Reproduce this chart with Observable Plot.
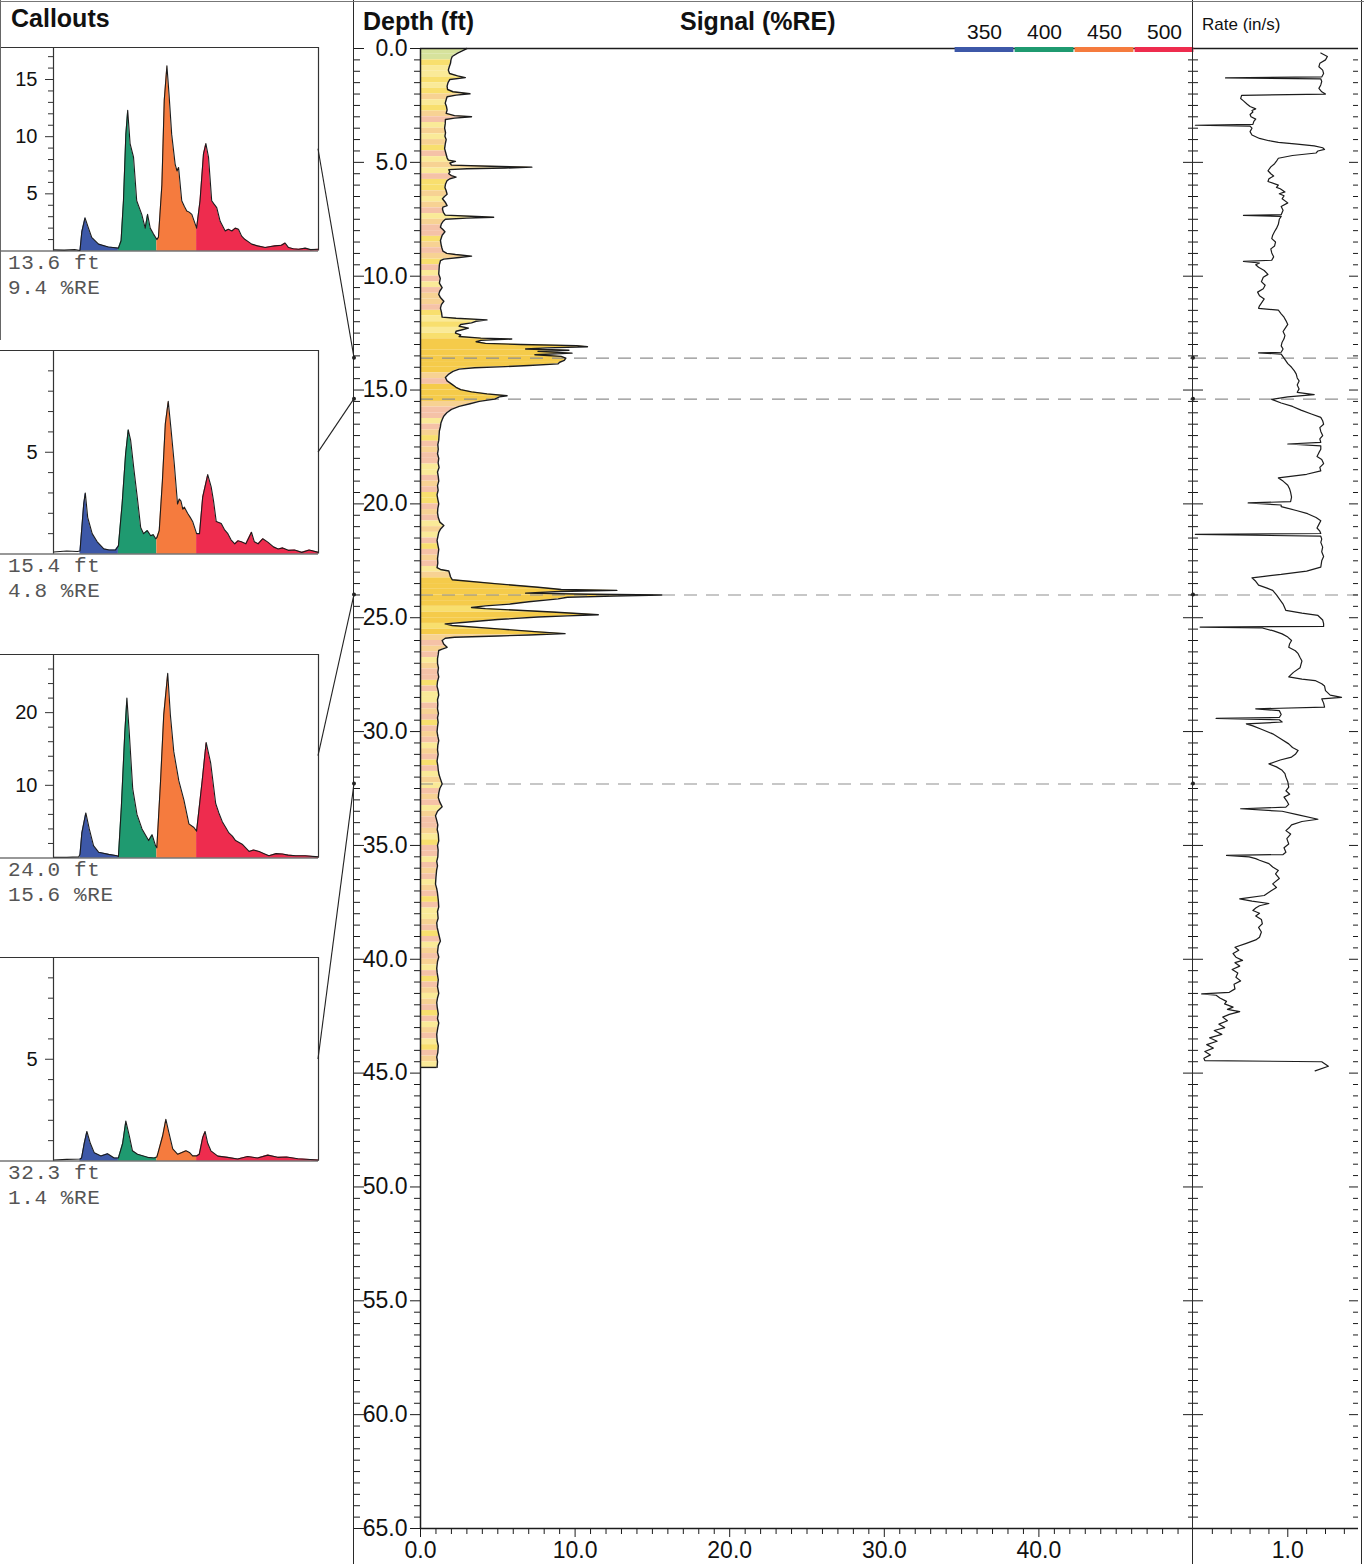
<!DOCTYPE html>
<html>
<head>
<meta charset="utf-8">
<script src="https://cdn.jsdelivr.net/npm/d3@7"></script>
<script src="https://cdn.jsdelivr.net/npm/@observablehq/plot@0.6"></script>
<style>
  body { margin: 0; background: #fff; }
  #page { position: relative; width: 1364px; height: 1564px; overflow: hidden; background: #fff;
          font-family: "Liberation Sans", Arial, sans-serif; color: #111; }
  .hdr { position: absolute; font-weight: bold; line-height: 1; white-space: nowrap; }
  .vline { position: absolute; top: 0; width: 0; border-left: 1.5px solid #2a2a2a; }
  .hline { position: absolute; height: 0; border-top: 1.2px solid #777; }
  .clabel { position: absolute; left: 8px; font-family: "Liberation Mono", "DejaVu Sans Mono", monospace;
            font-size: 21px; line-height: 1; color: #555; white-space: pre; letter-spacing: 0.6px; }
  svg { overflow: visible; }
</style>
</head>
<body>
<div id="page"></div>
<script>
// ---------------- data ----------------
// wavelength channels (nm) and where each channel sits along a callout waveform
const wavelengths = ["350", "400", "450", "500"];
const wlColors = ["#3d58a8", "#1f9a70", "#f57b3e", "#ee2c4e"];
const chanFrom = [10, 24.5, 39, 54];
const chanTo = [24.5, 39, 54, 100];

// callout depths (ft)
const calloutDepth = [13.6, 15.4, 24.0, 32.3];
const calloutYMax = [17.8, 10, 28, 10];
const calloutLabelTicks = [[5, 10, 15], [5], [10, 20], [5]];
const calloutMinorStep = [1, 1, 2, 1];

// waveform samples [position, amplitude]
const callout1 = [[0,0.1],[4,0.08],[8,0.12],[10,0.05],[10.7,1.7],[11.9,2.9],[13.2,2.0],[14.4,1.2],[17,0.6],[20.7,0.35],[22.5,0.3],[24.5,0.25],
  [25.5,0.9],[26.4,4.4],[27.3,10.2],[28,12.3],[28.9,9.4],[30.2,8.2],[31.4,4.4],[33.3,3.2],[34.6,2.0],[35.5,3.2],[36.5,2.0],[37.7,1.5],[39,1.0],
  [39.6,1.2],[40.9,5.8],[41.8,13.2],[42.8,16.2],[43.6,13.7],[44.6,10.2],[45.9,7.6],[46.6,7.0],[47.2,7.3],[48.4,4.4],[49.4,3.9],[50.3,3.5],[51.2,3.4],[52.2,3.2],[54,2.0],
  [55.3,4.4],[56.6,8.5],[57.5,9.4],[58.5,8.2],[59.7,4.4],[60.6,4.1],[61.6,3.8],[62.9,2.6],[64.8,1.75],[66,1.9],[67.3,1.75],[68.6,2.0],[69.8,1.9],[71,1.3],[72.3,1.0],[73.6,0.8],[74.8,0.6],[77,0.45],[79.9,0.3],[82,0.4],[83.6,0.45],[86,0.5],[87.4,0.7],[88.7,0.3],[90.5,0.2],[92.5,0.15],[95,0.25],[97,0.12],[100,0.15]];
const callout2 = [[0,0.1],[5,0.15],[9,0.12],[10,0.15],[11.4,2.46],[12,3.0],[12.9,1.8],[14.6,1.0],[16.5,0.6],[19,0.25],[21,0.2],[23.4,0.2],[24.5,0.4],
  [25.9,2.46],[27.2,4.9],[28.2,6.1],[29.1,5.6],[30.4,4.1],[31.6,2.8],[32.9,1.3],[34,1.0],[35.4,1.15],[36.7,0.9],[37.6,0.95],[38.6,0.75],[39,0.8],
  [39.9,1.15],[41.1,3.6],[42.2,6.4],[43.3,7.5],[44.3,6.2],[45.6,4.4],[46.8,2.46],[47.5,2.7],[48.1,2.6],[48.8,2.2],[49.4,2.3],[50.6,2.0],[51.6,1.8],[52.5,1.6],[54,1.0],
  [55.1,1.0],[56.3,2.8],[58.2,3.9],[59.5,3.3],[60.4,2.6],[61.4,1.6],[63.3,1.5],[64.5,1.2],[65.8,1.0],[67,0.7],[68.4,0.5],[69.6,0.65],[70.9,0.6],[72.6,0.5],[74.7,1.07],[75.8,0.6],[77.2,0.5],[79,0.75],[81,0.57],[83,0.35],[84.8,0.25],[86.5,0.3],[88.6,0.18],[91,0.2],[93.7,0.08],[96.5,0.2],[100,0.08]];
const callout3 = [[0,0.1],[5,0.1],[9.5,0.15],[10,0.5],[10.7,3.45],[12.2,6.2],[13.5,4.0],[15.1,1.7],[17,0.8],[20.8,0.5],[24,0.3],[24.5,0.2],
  [25.6,7.0],[26.9,17.2],[27.7,22.0],[28.6,17.2],[29.9,9.5],[31.5,6.0],[33.4,4.0],[35.9,2.4],[37.2,3.2],[38.5,1.7],[39,1.4],
  [40.4,10.6],[41.6,19.7],[43.1,25.4],[44.1,19.7],[45.4,14.6],[47.3,10.6],[49.2,8.0],[51.1,4.7],[53,4.2],[54,3.7],
  [56.1,10.6],[57.6,15.9],[59.3,13.1],[61.2,7.5],[62.4,6.2],[63.7,5.0],[65,4.2],[66.2,3.45],[67.5,3.0],[68.7,2.4],[71.2,1.9],[73.8,0.9],[75.5,1.1],[77.6,0.9],[79.5,0.6],[81.3,0.3],[84,0.6],[86.4,0.55],[88.5,0.4],[91.4,0.3],[95,0.3],[100,0.15]];
const callout4 = [[0,0.05],[5,0.08],[10,0.1],[10.6,0.15],[11.6,0.87],[12.6,1.45],[13.9,0.87],[15.4,0.4],[17.9,0.25],[20.4,0.36],[22.9,0.15],[24.5,0.15],
  [26.1,0.87],[27.3,1.96],[28.6,1.24],[29.8,0.5],[31.7,0.33],[35.5,0.18],[38,0.15],[39,0.2],
  [39.5,0.42],[41.2,1.24],[42.4,2.05],[43.5,1.42],[45,0.6],[46.9,0.33],[50,0.5],[51.3,0.42],[52.5,0.25],[54,0.25],
  [55,0.33],[56.3,1.15],[57.2,1.45],[58.2,0.87],[59.4,0.5],[62,0.24],[65.7,0.18],[69.5,0.1],[73.3,0.22],[77,0.15],[80.9,0.29],[84.6,0.18],[88,0.2],[92.2,0.11],[100,0.05]];
const callouts = [callout1, callout2, callout3, callout4];

// signal log [depth ft, %RE]
const signalPts = [[0,3.0],[0.1,2.7],[0.2,2.4],[0.35,2.05],[0.5,1.97],[0.65,1.94],[0.8,1.86],[0.95,1.8],[1.1,1.88],[1.2,2.4],[1.28,2.9],[1.36,1.9],[1.5,1.78],[1.65,1.72],[1.8,1.75],[1.9,2.1],[1.99,3.2],[2.05,2.3],[2.12,1.72],[2.25,1.66],[2.4,1.6],[2.55,1.68],[2.7,1.72],[2.85,1.66],[2.95,2.2],[3.0,3.3],[3.06,2.2],[3.12,1.61],[3.3,1.6],[3.5,1.56],[3.7,1.62],[3.85,1.58],[4.0,1.66],[4.2,1.6],[4.4,1.56],[4.6,1.64],[4.8,1.72],[4.9,1.8],[4.96,2.26],[5.03,1.9],[5.12,2.0],[5.17,4.5],[5.21,7.2],[5.25,5.5],[5.28,3.0],[5.32,1.83],[5.42,1.9],[5.5,1.83],[5.58,2.0],[5.65,2.3],[5.72,1.9],[5.8,1.72],[5.95,1.62],[6.1,1.58],[6.25,1.66],[6.4,1.72],[6.5,1.55],[6.6,1.42],[6.75,1.6],[6.9,1.72],[6.97,1.45],[7.05,1.42],[7.2,1.48],[7.32,1.6],[7.38,3.6],[7.41,4.73],[7.45,3.0],[7.5,1.61],[7.6,1.45],[7.7,1.35],[7.85,1.29],[7.95,1.45],[8.05,1.58],[8.2,1.4],[8.43,1.29],[8.6,1.33],[8.75,1.38],[8.9,1.45],[9.0,1.7],[9.05,2.26],[9.12,3.3],[9.18,2.5],[9.25,1.5],[9.32,1.29],[9.5,1.22],[9.7,1.2],[9.9,1.18],[10.1,1.28],[10.3,1.22],[10.5,1.4],[10.65,1.25],[10.8,1.18],[10.95,1.3],[11.1,1.51],[11.25,1.35],[11.4,1.29],[11.6,1.36],[11.8,1.4],[11.85,2.3],[11.92,4.3],[11.98,3.6],[12.05,3.3],[12.12,2.6],[12.2,2.5],[12.28,3.1],[12.35,2.7],[12.42,2.3],[12.5,2.26],[12.58,2.6],[12.65,2.5],[12.72,3.9],[12.76,5.9],[12.82,3.9],[12.88,3.6],[12.95,4.2],[13.0,6.5],[13.05,10.1],[13.1,10.8],[13.15,8.2],[13.2,6.8],[13.25,9.6],[13.3,7.6],[13.38,9.8],[13.45,7.4],[13.52,9.1],[13.6,9.4],[13.7,9.3],[13.78,9.0],[13.85,8.9],[13.92,7.0],[13.97,5.5],[14.02,3.5],[14.08,2.5],[14.18,2.1],[14.3,1.83],[14.45,1.61],[14.6,1.72],[14.75,2.04],[14.88,2.3],[14.98,2.6],[15.08,3.3],[15.17,4.3],[15.25,5.6],[15.3,5.1],[15.4,4.8],[15.5,3.8],[15.6,3.2],[15.72,2.5],[15.85,2.0],[16.0,1.7],[16.15,1.5],[16.3,1.4],[16.45,1.32],[16.6,1.29],[16.8,1.22],[17.0,1.2],[17.2,1.18],[17.4,1.12],[17.6,1.15],[17.8,1.1],[18.0,1.18],[18.2,1.14],[18.4,1.2],[18.6,1.1],[18.8,1.15],[19.0,1.18],[19.2,1.1],[19.4,1.14],[19.6,1.07],[19.8,1.12],[20.0,1.18],[20.2,1.12],[20.4,1.1],[20.6,1.15],[20.8,1.25],[20.95,1.51],[21.1,1.3],[21.25,1.18],[21.45,1.12],[21.6,1.07],[21.8,1.12],[22.0,1.18],[22.2,1.14],[22.4,1.1],[22.6,1.12],[22.8,1.07],[22.88,1.29],[22.95,1.83],[23.1,1.9],[23.2,1.94],[23.33,2.05],[23.5,4.8],[23.66,7.6],[23.76,9.1],[23.8,12.7],[23.85,9.0],[23.92,6.8],[23.97,11.0],[24.0,15.6],[24.05,12.5],[24.1,9.5],[24.17,8.9],[24.3,7.0],[24.4,5.8],[24.48,4.2],[24.55,3.3],[24.6,4.2],[24.75,8.5],[24.87,11.5],[24.92,9.5],[24.97,7.6],[25.08,5.0],[25.2,2.9],[25.27,1.6],[25.34,2.05],[25.5,5.2],[25.62,7.6],[25.7,9.35],[25.76,7.0],[25.8,5.0],[25.86,2.2],[25.9,1.6],[26.0,1.4],[26.15,1.5],[26.3,1.72],[26.38,1.4],[26.44,1.18],[26.6,1.15],[26.8,1.1],[27.0,1.1],[27.2,1.16],[27.4,1.12],[27.6,1.18],[27.8,1.1],[28.0,1.07],[28.2,1.14],[28.4,1.18],[28.6,1.1],[28.8,1.12],[29.0,1.1],[29.2,1.16],[29.4,1.1],[29.6,1.14],[29.8,1.1],[30.0,1.07],[30.2,1.12],[30.4,1.18],[30.6,1.12],[30.8,1.1],[31.0,1.14],[31.3,1.07],[31.5,1.12],[31.7,1.15],[31.9,1.2],[32.1,1.3],[32.3,1.4],[32.5,1.25],[32.7,1.18],[32.9,1.15],[33.1,1.25],[33.3,1.4],[33.5,1.1],[33.7,0.97],[33.9,1.05],[34.1,1.12],[34.3,1.08],[34.5,1.15],[34.8,1.18],[35.0,1.1],[35.2,1.14],[35.5,1.12],[35.7,1.05],[35.9,1.1],[36.1,1.04],[36.4,1.0],[36.7,0.97],[36.9,1.05],[37.1,1.1],[37.4,1.15],[37.7,1.18],[37.9,1.1],[38.2,1.14],[38.4,1.05],[38.6,1.08],[38.9,1.18],[39.2,1.29],[39.4,1.15],[39.7,1.1],[39.9,1.18],[40.1,1.1],[40.4,1.05],[40.6,1.08],[40.9,1.15],[41.2,1.1],[41.5,1.18],[41.7,1.1],[41.9,1.05],[42.1,1.08],[42.4,1.15],[42.6,1.1],[42.8,1.18],[43.0,1.12],[43.3,1.05],[43.6,1.08],[43.8,1.15],[44.1,1.12],[44.3,1.05],[44.5,1.1],[44.75,1.07]];

// spectral tint of the signal fill, one code per 0.25 ft band from the surface down
const toneStep = 0.25;
const toneCode = [
  5,5,1,0, 0,1,0,1, 2,0,1,2, 3,0,2,0, 2,1,3,0,
  2,0,3,1, 1,2,0,2, 3,0,2,3, 3,1,2,3, 2,1,3,0,
  3,0,3,2, 2,3,1,0, 1,0,1,4, 4,4,4,4, 4,2,3,4,
  4,4,2,3, 3,0,3,2, 1,3,2,3, 3,0,0,3, 2,3,1,1,
  3,2,3,0, 2,0,3,1, 3,2,3,0, 2,4,4,4, 4,4,1,4,
  4,1,4,2, 3,2,3,0, 2,3,3,1, 3,0,0,3, 2,3,1,3,
  2,3,0,2, 3,1,3,0, 2,0,3,2, 3,0,2,3, 3,2,0,1,
  3,3,0,3, 2,3,0,2, 3,1,3,0, 0,2,3,1, 3,0,2,3,
  2,0,3,1, 3,2,0,2, 3,1,3,0, 2,3,0,1, 3,2,0];
const toneColors = ["#faea98", "#f8df6e", "#f7d293", "#f5c2a7", "#f5cb4a", "#d6e29c"];

// push rate [depth ft, in/s]
const ratePts = [[0.2,1.35],[0.35,1.42],[0.5,1.40],[0.65,1.34],[0.8,1.33],[0.95,1.37],[1.1,1.38],[1.25,1.36],[1.29,0.34],[1.33,1.35],[1.45,1.36],[1.6,1.35],[1.75,1.33],[1.9,1.36],[2.0,1.40],[2.06,0.51],[2.2,0.50],[2.3,0.53],[2.45,0.57],[2.55,0.60],[2.65,0.66],[2.72,0.62],[2.79,0.63],[2.9,0.60],[3.0,0.61],[3.1,0.66],[3.2,0.64],[3.33,0.63],[3.37,0.02],[3.41,0.60],[3.5,0.62],[3.65,0.60],[3.8,0.62],[3.95,0.70],[4.05,0.80],[4.12,0.90],[4.2,1.10],[4.28,1.28],[4.36,1.37],[4.43,1.39],[4.5,1.32],[4.59,1.30],[4.7,1.05],[4.82,0.90],[4.95,0.88],[5.06,0.86],[5.2,0.82],[5.37,0.79],[5.5,0.82],[5.6,0.85],[5.72,0.80],[5.84,0.79],[6.0,0.90],[6.1,0.88],[6.16,0.92],[6.3,0.97],[6.38,0.91],[6.47,0.96],[6.6,0.94],[6.78,1.0],[6.94,0.93],[7.1,0.95],[7.3,0.93],[7.33,0.53],[7.37,0.93],[7.5,0.91],[7.72,0.90],[7.9,0.88],[8.04,0.86],[8.2,0.84],[8.35,0.83],[8.5,0.87],[8.67,0.86],[8.8,0.82],[8.98,0.83],[9.15,0.85],[9.3,0.83],[9.35,0.53],[9.42,0.70],[9.5,0.66],[9.61,0.69],[9.75,0.75],[9.92,0.79],[10.05,0.74],[10.24,0.72],[10.4,0.76],[10.55,0.74],[10.7,0.68],[10.86,0.70],[11.0,0.75],[11.18,0.72],[11.3,0.70],[11.41,0.69],[11.49,0.90],[11.65,0.93],[11.8,0.96],[11.95,0.98],[12.12,1.0],[12.3,0.97],[12.43,0.95],[12.6,0.97],[12.75,0.96],[12.9,0.94],[13.06,0.93],[13.2,0.95],[13.34,0.93],[13.37,0.69],[13.42,0.93],[13.6,0.96],[13.84,1.0],[14.0,1.04],[14.16,1.07],[14.3,1.09],[14.47,1.10],[14.6,1.12],[14.78,1.10],[14.95,1.12],[15.1,1.10],[15.2,1.28],[15.3,1.0],[15.41,0.83],[15.57,0.93],[15.72,1.05],[15.88,1.14],[16.05,1.25],[16.2,1.35],[16.35,1.37],[16.5,1.38],[16.65,1.34],[16.82,1.35],[17.0,1.37],[17.15,1.34],[17.3,1.35],[17.37,1.0],[17.45,1.35],[17.6,1.35],[17.75,1.33],[17.92,1.31],[18.05,1.36],[18.23,1.38],[18.4,1.34],[18.55,1.35],[18.7,1.20],[18.86,0.90],[19.0,0.95],[19.18,1.0],[19.35,1.02],[19.49,1.03],[19.7,1.04],[19.9,1.03],[19.96,0.58],[20.05,0.93],[20.12,0.93],[20.3,1.10],[20.43,1.21],[20.6,1.30],[20.74,1.35],[20.9,1.33],[21.06,1.31],[21.2,1.34],[21.3,1.35],[21.34,0.02],[21.42,1.35],[21.55,1.36],[21.69,1.35],[21.9,1.37],[22.1,1.36],[22.31,1.38],[22.5,1.36],[22.78,1.35],[22.95,1.20],[23.1,0.93],[23.18,0.75],[23.25,0.62],[23.4,0.66],[23.57,0.69],[23.7,0.78],[23.8,0.84],
  [24.0,0.88],[24.17,0.91],[24.4,0.95],[24.68,0.98],[24.8,1.15],[24.9,1.32],[25.1,1.37],[25.26,1.38],[25.38,1.38],[25.41,0.07],[25.45,0.73],[25.58,0.85],[25.71,0.94],[25.85,1.0],[26.0,1.04],[26.14,1.02],[26.3,1.01],[26.45,1.08],[26.58,1.11],[26.75,1.13],[26.9,1.15],[27.05,1.14],[27.2,1.13],[27.4,1.06],[27.6,1.01],[27.7,1.15],[27.76,1.29],[27.9,1.36],[28.0,1.39],[28.2,1.40],[28.4,1.45],[28.5,1.57],[28.56,1.36],[28.75,1.38],[28.93,1.39],[29.0,0.66],[29.08,0.91],[29.25,0.93],[29.38,0.91],[29.42,0.24],[29.48,0.91],[29.58,0.94],[29.66,0.56],[29.75,0.63],[29.9,0.72],[30.1,0.84],[30.3,0.92],[30.54,1.01],[30.7,1.05],[30.83,1.11],[31.0,1.08],[31.12,1.04],[31.25,0.92],[31.42,0.80],[31.55,0.88],[31.7,0.94],[31.85,0.97],[32.0,0.98],[32.2,1.0],[32.44,1.01],[32.6,0.98],[32.75,1.02],[32.88,0.96],[33.05,0.99],[33.2,1.01],[33.32,0.98],[33.39,0.50],[33.5,0.94],[33.65,1.10],[33.85,1.32],[33.95,1.15],[34.1,1.04],[34.2,1.02],[34.35,0.98],[34.5,1.03],[34.7,0.99],[34.94,1.01],[35.1,0.96],[35.3,0.98],[35.4,0.95],[35.44,0.35],[35.5,0.59],[35.58,0.66],[35.65,0.70],[35.8,0.80],[35.95,0.84],[36.1,0.90],[36.25,0.87],[36.45,0.91],[36.69,0.84],[36.85,0.88],[37.0,0.82],[37.2,0.75],[37.35,0.49],[37.45,0.62],[37.55,0.80],[37.65,0.70],[37.75,0.66],[37.86,0.63],[37.98,0.70],[38.1,0.66],[38.25,0.72],[38.44,0.73],[38.6,0.69],[38.8,0.72],[39.03,0.70],[39.15,0.66],[39.3,0.56],[39.47,0.44],
  [39.6,0.48],[39.75,0.42],[39.91,0.45],[40.05,0.52],[40.15,0.44],[40.3,0.49],[40.45,0.41],[40.6,0.47],[40.79,0.45],[40.95,0.5],[41.1,0.43],[41.3,0.44],[41.45,0.38],[41.52,0.087],[41.58,0.24],[41.7,0.28],[41.85,0.35],[41.96,0.33],[42.1,0.42],[42.2,0.36],[42.3,0.49],[42.42,0.38],[42.54,0.31],[42.7,0.36],[42.85,0.27],[43.0,0.33],[43.13,0.22],[43.3,0.3],[43.45,0.17],[43.6,0.25],[43.75,0.14],[43.9,0.21],[44.05,0.12],[44.2,0.18],[44.35,0.11],[44.45,0.12],[44.5,1.36],[44.7,1.43],[44.9,1.29]];

// axis tick labels
const depthLabels = [0, 5, 10, 15, 20, 25, 30, 35, 40, 45, 50, 55, 60, 65];
const signalLabels = [0, 10, 20, 30, 40];
const rateLabels = [1.0];

// ---------------- layout ----------------
const page = document.getElementById("page");
const FONT = '"Liberation Sans", Arial, sans-serif';
function place(node, left, top) {
  node.style.position = "absolute";
  node.style.left = left + "px";
  node.style.top = top + "px";
  node.style.background = "transparent";
  page.appendChild(node);
  return node;
}
function div(cls, text, css) {
  const el = document.createElement("div");
  el.className = cls;
  if (text != null) el.textContent = text;
  Object.assign(el.style, css);
  page.appendChild(el);
  return el;
}

const sig = signalPts.map(([depth, value]) => ({depth, value}));
const rate = ratePts.map(([depth, value]) => ({depth, value}));
const bands = toneCode.map((c, i) => ({d0: i * toneStep, d1: (i + 1) * toneStep, c}));
const sigMax = d3.max(sig, d => d.value);
const SIG_MAX_X = 50, DEPTH_MAX = 65, RATE_MAX_X = 1.75;

const halfFeet = d3.range(0, DEPTH_MAX + 0.001, 0.5);
const minorHalf = halfFeet.filter(d => d % 5 !== 0);

// ---- main signal track ----
const M = {left: 354, width: 839, mL: 66, mR: 0, mT: 48, mB: 36, height: 1564};
const mainFW = M.width - M.mL - M.mR;
const mainFH = M.height - M.mT - M.mB;
const ink = "#1c1c1c";

const main = Plot.plot({
  width: M.width, height: M.height,
  marginLeft: M.mL, marginRight: M.mR, marginTop: M.mT, marginBottom: M.mB,
  style: {fontFamily: FONT, background: "transparent", color: "#111"},
  x: {domain: [0, SIG_MAX_X], axis: null},
  y: {domain: [0, DEPTH_MAX], reverse: true, axis: null},
  color: {type: "ordinal", domain: d3.range(toneColors.length), range: toneColors},
  marks: [
    Plot.rect(bands, {y1: "d0", y2: "d1", x1: () => 0, x2: () => sigMax, fill: "c"}),
    Plot.areaX(sig, {y: "depth", x1: "value", x2: () => SIG_MAX_X, fill: "white"}),
    Plot.ruleY(calloutDepth, {stroke: "#8f8f8f", strokeWidth: 1.1, strokeDasharray: "13,9"}),
    Plot.line(sig, {x: "value", y: "depth", stroke: ink, strokeWidth: 1.4}),
    Plot.ruleY(sig.slice(-1), {y: "depth", x1: () => 0, x2: "value", stroke: ink, strokeWidth: 1.4}),
    Plot.ruleX([0], {stroke: ink, strokeWidth: 1.5}),
    Plot.ruleY([0, DEPTH_MAX], {stroke: ink, strokeWidth: 1.5}),
    // depth axis
    Plot.axisY(depthLabels, {anchor: "left", label: null, tickSize: 10, tickPadding: 3, tickFormat: d3.format(".1f"), fontSize: 23, stroke: ink}),
    Plot.ruleY(minorHalf, {insetLeft: -6, insetRight: mainFW, stroke: ink}),
    // ticks along the track's left border
    Plot.ruleY(minorHalf, {insetLeft: -M.mL, insetRight: mainFW + M.mL - 6, stroke: ink}),
    Plot.ruleY(depthLabels, {insetLeft: -M.mL, insetRight: mainFW + M.mL - 10, stroke: ink}),
    // ticks along the right border
    Plot.ruleY(minorHalf, {insetLeft: mainFW - 5, stroke: ink}),
    Plot.ruleY(depthLabels, {insetLeft: mainFW - 10, stroke: ink}),
    // signal axis
    Plot.axisX(signalLabels, {anchor: "bottom", label: null, tickSize: 9, tickPadding: 4, tickFormat: d3.format(".1f"), fontSize: 23, stroke: ink}),
    Plot.ruleX(d3.range(1, SIG_MAX_X, 1).filter(d => d % 10 !== 0), {insetTop: mainFH, insetBottom: -6, stroke: ink})
  ]
});
place(main, M.left, 0);

// ---- rate track ----
const R = {left: 1193, width: 170, mL: 0, mR: 5, mT: 48, mB: 36, height: 1564};
const rateFW = R.width - R.mL - R.mR;
const rateFH = R.height - R.mT - R.mB;
const rateChart = Plot.plot({
  width: R.width, height: R.height,
  marginLeft: R.mL, marginRight: R.mR, marginTop: R.mT, marginBottom: R.mB,
  style: {fontFamily: FONT, background: "transparent", color: "#111"},
  x: {domain: [0, RATE_MAX_X], axis: null},
  y: {domain: [0, DEPTH_MAX], reverse: true, axis: null},
  marks: [
    Plot.ruleY(calloutDepth, {stroke: "#8f8f8f", strokeWidth: 1.1, strokeDasharray: "13,9"}),
    Plot.line(rate, {x: "value", y: "depth", stroke: ink, strokeWidth: 1.2}),
    Plot.ruleY([0, DEPTH_MAX], {stroke: ink, strokeWidth: 1.5}),
    Plot.ruleY(minorHalf, {insetRight: rateFW - 5, stroke: ink}),
    Plot.ruleY(depthLabels, {insetRight: rateFW - 10, stroke: ink}),
    Plot.ruleY(minorHalf, {insetLeft: rateFW - 5, stroke: ink}),
    Plot.ruleY(depthLabels, {insetLeft: rateFW - 9, stroke: ink}),
    Plot.axisX(rateLabels, {anchor: "bottom", label: null, tickSize: 9, tickPadding: 4, tickFormat: d3.format(".1f"), fontSize: 23, stroke: ink}),
    Plot.ruleX(d3.range(0.2, RATE_MAX_X, 0.2).filter(d => Math.abs(d - 1) > 0.01), {insetTop: rateFH, insetBottom: -6, stroke: ink})
  ]
});
place(rateChart, R.left, 0);

// ---- wavelength key ----
const key = Plot.plot({
  width: 242, height: 40, marginLeft: 0, marginRight: 0, marginTop: 29, marginBottom: 6,
  style: {fontFamily: FONT, background: "transparent", color: "#111"},
  x: {type: "band", domain: wavelengths, padding: 0, axis: null},
  color: {domain: wavelengths, range: wlColors},
  marks: [
    Plot.cell(wavelengths, {x: d => d, fill: d => d, insetLeft: 0.6, insetRight: 0.6}),
    Plot.axisX({anchor: "top", label: null, tickSize: 0, tickPadding: 9, fontSize: 21})
  ]
});
place(key, 953, 18);

// ---- callouts ----
const C = {width: 322, mL: 53, mR: 4, mT: 10, mB: 10, frameH: 203.5, top0: 47, pitch: 303.4};
const calloutFW = C.width - C.mL - C.mR;
const calloutCharts = callouts.map((pts, k) => {
  const data = pts.map(([u, v]) => ({u, v}));
  const yMax = calloutYMax[k];
  const minor = d3.range(calloutMinorStep[k], yMax, calloutMinorStep[k])
    .filter(v => !calloutLabelTicks[k].includes(v));
  const chart = Plot.plot({
    width: C.width, height: C.frameH + C.mT + C.mB,
    marginLeft: C.mL, marginRight: C.mR, marginTop: C.mT, marginBottom: C.mB,
    style: {fontFamily: FONT, background: "transparent", color: "#111"},
    x: {domain: [0, 100], axis: null},
    y: {domain: [0, yMax], axis: null},
    marks: [
      ...wavelengths.map((w, i) => Plot.areaY(data, {
        filter: d => d.u >= chanFrom[i] && d.u <= chanTo[i],
        x: "u", y: "v", fill: wlColors[i]
      })),
      Plot.line(data, {x: "u", y: "v", stroke: ink, strokeWidth: 1.1}),
      Plot.ruleX([0, 100], {stroke: "#333", strokeWidth: 1.2}),
      Plot.ruleY([0, yMax], {insetLeft: -C.mL, stroke: "#333", strokeWidth: 1.2}),
      Plot.ruleY(minor, {insetLeft: -5, insetRight: calloutFW, stroke: "#333"}),
      Plot.axisY(calloutLabelTicks[k], {anchor: "left", label: null, tickSize: 8, tickPadding: 8, fontSize: 20, stroke: "#333"})
    ]
  });
  const top = C.top0 + k * C.pitch - C.mT;
  place(chart, 0, top);
  // depth / signal read-out under each waveform
  const depth = calloutDepth[k];
  const value = sig.find(p => p.depth === depth).value;
  const base = top + C.mT + C.frameH;
  div("clabel", `${depth.toFixed(1)} ft`, {top: (base + 12 - 9.5) + "px"});
  div("clabel", `${value.toFixed(1)} %RE`, {top: (base + 37 - 9.5) + "px"});
  return {chart, top, yMax};
});

// ---- panel borders and headings ----
div("vline", null, {left: M.left - 1 + "px", height: "1564px"});
div("vline", null, {left: R.left - 1 + "px", height: "1564px"});
div("vline", null, {left: "1361px", height: "1564px"});
div("vline", null, {left: "0px", height: "340px", borderLeftColor: "#666"});
div("hline", null, {left: "0px", top: "1px", width: "1364px"});

div("hdr", "Callouts", {left: "11px", top: "6px", fontSize: "25px"});
div("hdr", "Depth (ft)", {left: "363px", top: "9px", fontSize: "25px"});
div("hdr", "Signal (%RE)", {left: "680px", top: "9px", fontSize: "25px"});
div("hdr", "Rate (in/s)", {left: "1202px", top: "16px", fontSize: "17px", fontWeight: "normal"});

// ---- leader lines from each callout to its depth ----
const mainY = main.scale("y");
const overlay = d3.create("svg")
  .attr("width", 1364).attr("height", 1564)
  .style("position", "absolute").style("left", "0px").style("top", "0px")
  .style("pointer-events", "none");
calloutCharts.forEach(({chart, top, yMax}, k) => {
  const cx = chart.scale("x").apply(100);
  const cy = top + chart.scale("y").apply(yMax / 2);
  const ty = mainY.apply(calloutDepth[k]);
  overlay.append("line")
    .attr("x1", cx).attr("y1", cy).attr("x2", M.left).attr("y2", ty)
    .attr("stroke", "#222").attr("stroke-width", 1.1);
  overlay.append("circle").attr("cx", M.left).attr("cy", ty).attr("r", 2).attr("fill", "#222");
  overlay.append("circle").attr("cx", R.left).attr("cy", ty).attr("r", 2).attr("fill", "#222");
});
page.appendChild(overlay.node());
</script>
</body>
</html>
